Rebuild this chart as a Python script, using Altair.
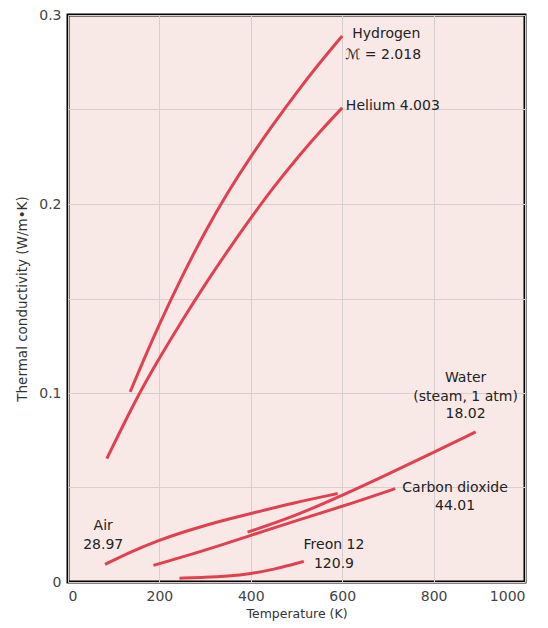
import altair as alt
import pandas as pd

# Data (Temperature K, thermal conductivity W/m·K)
h2_T = [136, 170, 200, 250, 300, 350, 400, 450, 500, 550, 600]
h2_k = [0.1006, 0.1200, 0.1365, 0.1620, 0.1855, 0.2065, 0.2252, 0.2425, 0.2590, 0.2745, 0.2889]

he_T = [85, 150, 200, 250, 300, 350, 400, 450, 500, 550, 600]
he_k = [0.0653, 0.0975, 0.1185, 0.1385, 0.1575, 0.1755, 0.1926, 0.2090, 0.2240, 0.2380, 0.2509]

water_T = [393, 492, 601, 700, 800, 892]
water_k = [0.0264, 0.0344, 0.0459, 0.057, 0.0686, 0.0794]

co2_T = [187, 300, 400, 500, 601, 716]
co2_k = [0.0088, 0.0167, 0.0247, 0.0325, 0.040, 0.0494]

air_T = [81, 140, 198, 250, 301, 350, 400, 492, 590]
air_k = [0.0093, 0.0163, 0.022, 0.0263, 0.030, 0.0332, 0.0362, 0.0418, 0.0468]

freon_T = [244, 300, 350, 400, 450, 516]
freon_k = [0.002, 0.0024, 0.0031, 0.0044, 0.0066, 0.0109]

series = {
    "Hydrogen": (h2_T, h2_k),
    "Helium": (he_T, he_k),
    "Water": (water_T, water_k),
    "Carbon dioxide": (co2_T, co2_k),
    "Air": (air_T, air_k),
    "Freon 12": (freon_T, freon_k),
}

rows = []
for name, (ts, ks) in series.items():
    for t, k in zip(ts, ks):
        rows.append({"gas": name, "T": t, "k": k})
df = pd.DataFrame(rows)

# Labels (text and anchor in data coordinates)
left_text = ["Hydrogen", "ℳ = 2.018", "Helium 4.003"]
left_T = [622, 607, 608]
left_k = [0.2898, 0.2786, 0.2516]

center_text = ["Water", "(steam, 1 atm)", "18.02", "Carbon dioxide", "44.01",
               "Air", "28.97", "Freon 12", "120.9"]
center_T = [870, 870, 870, 847, 847, 77, 77, 582, 582]
center_k = [0.1077, 0.0978, 0.0888, 0.0496, 0.0400, 0.0294, 0.0194, 0.0194, 0.0093]

left_df = pd.DataFrame({"T": left_T, "k": left_k, "text": left_text})
center_df = pd.DataFrame({"T": center_T, "k": center_k, "text": center_text})

FONT = "DejaVu Sans"
RED = "#e04050"

x_scale = alt.Scale(domain=[0, 1000], nice=False)
y_scale = alt.Scale(domain=[0, 0.3], nice=False)

x_axis = alt.Axis(
    title="Temperature (K)", values=[0, 200, 400, 600, 800, 1000], format="d",
    grid=True, gridColor="#d6cfcd", gridWidth=1, ticks=False, domain=False,
    labelFont=FONT, labelFontSize=14, labelColor="#444", labelPadding=7,
    titleFont=FONT, titleFontSize=12.5, titleFontWeight="normal", titleColor="#333",
    titlePadding=4,
)
y_axis = alt.Axis(
    title="Thermal conductivity (W/m•K)",
    values=[0, 0.05, 0.1, 0.15, 0.2, 0.25, 0.3], format=".2~f",
    labelExpr="indexof(['0','0.1','0.2','0.3'], datum.label) >= 0 ? datum.label : ''",
    grid=True, gridColor="#d6cfcd", gridWidth=1, ticks=False, domain=False,
    labelFont=FONT, labelFontSize=14, labelColor="#444", labelPadding=7,
    titleFont=FONT, titleFontSize=13.5, titleFontWeight="normal", titleColor="#333",
    titlePadding=9,
)

lines = alt.Chart(df).mark_line(strokeWidth=3, interpolate="basis", color=RED).encode(
    x=alt.X("T:Q", scale=x_scale, axis=x_axis),
    y=alt.Y("k:Q", scale=y_scale, axis=y_axis),
    detail="gas:N",
)

left_labels = alt.Chart(left_df).mark_text(
    align="left", baseline="middle", font=FONT, fontSize=14, color="#222"
).encode(x=alt.X("T:Q", scale=x_scale), y=alt.Y("k:Q", scale=y_scale), text="text:N")

center_labels = alt.Chart(center_df).mark_text(
    align="center", baseline="middle", font=FONT, fontSize=14, color="#222"
).encode(x=alt.X("T:Q", scale=x_scale), y=alt.Y("k:Q", scale=y_scale), text="text:N")

chart = alt.layer(lines, left_labels, center_labels).properties(
    width=457, height=567,
    autosize=alt.AutoSizeParams(type="none"),
    padding={"left": 60, "top": 7, "right": 15, "bottom": 40},
).configure_view(
    fill="#f9e9e6", stroke="black", strokeWidth=3
)

chart.save("out.html", embed_options={"renderer": "svg", "actions": False})
